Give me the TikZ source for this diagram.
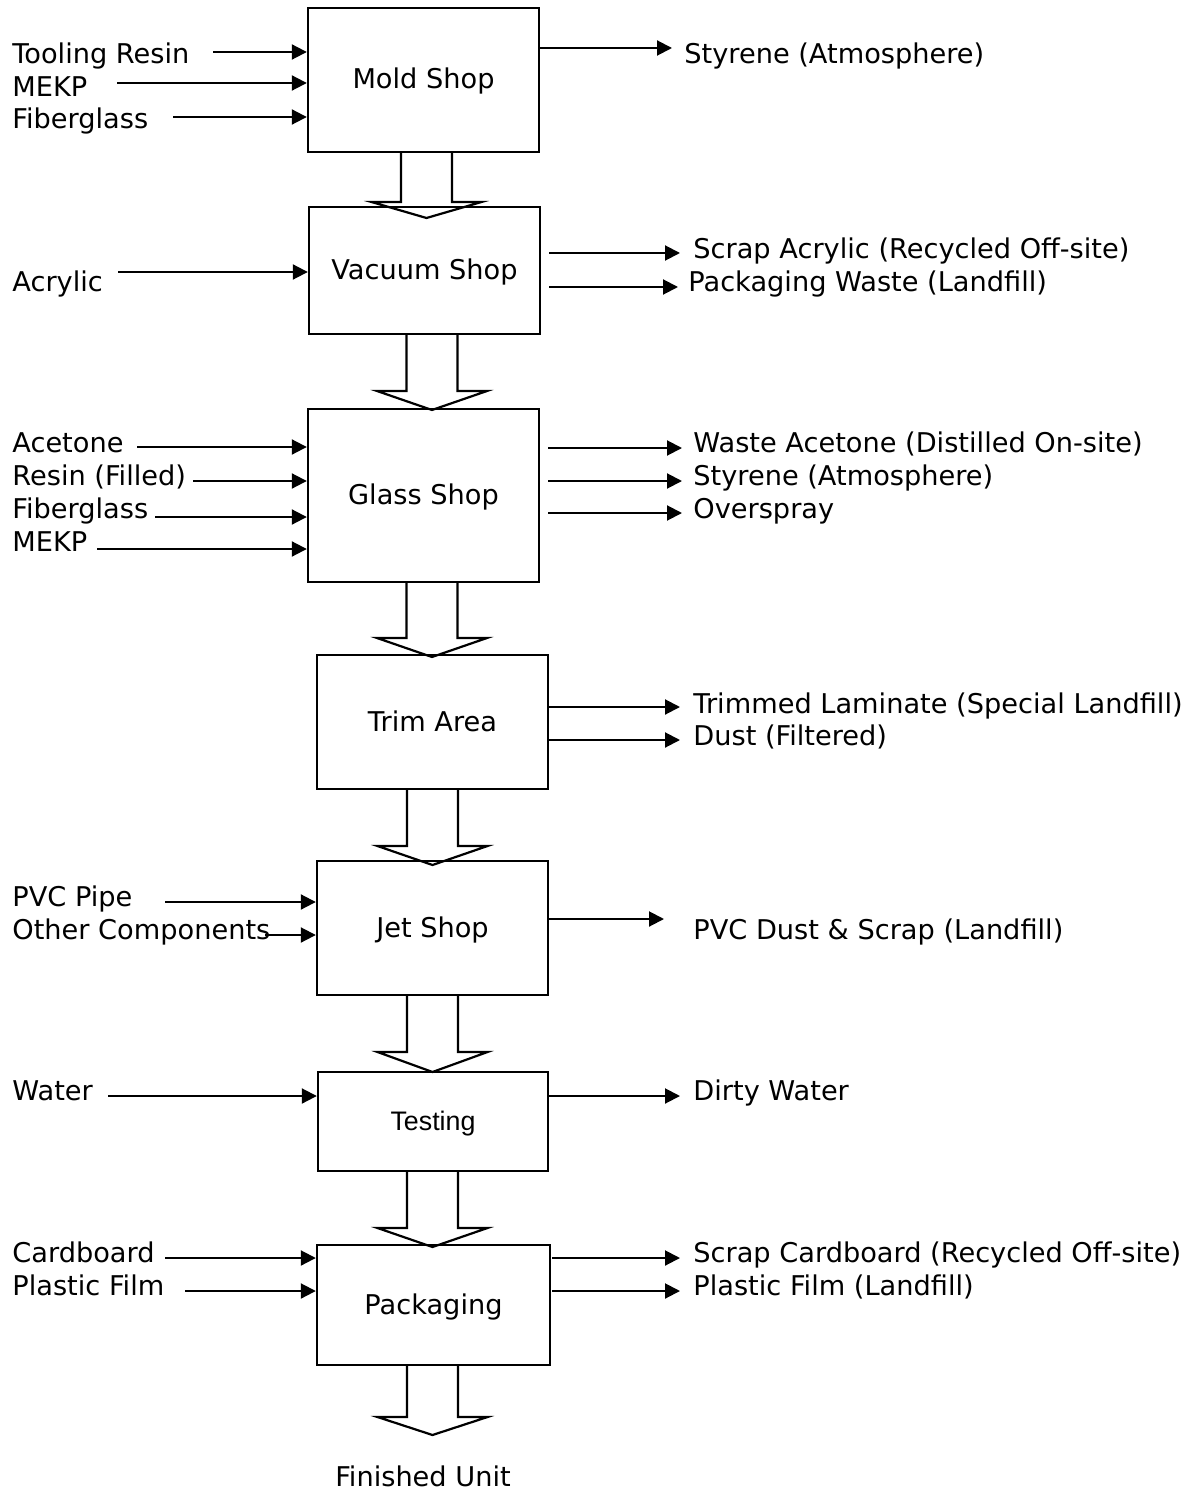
\documentclass[tikz,border=0pt]{standalone}
\usepackage{fontspec}
\setmainfont{DejaVu Sans}
\newfontfamily\arialfont{Liberation Sans}
\usetikzlibrary{arrows.meta}
\newcommand\blkarrow[4]{% #1 center x, #2 source node, #3 head base y, #4 tip y
  \draw[blockarrow] (#1-25.5,0 |- #2.south) -- (#1-25.5,#3) -- (#1-55,#3) -- (#1,#4)
    -- (#1+55,#3) -- (#1+25.5,#3) -- (#1+25.5,0 |- #2.south);}
\begin{document}
\begin{tikzpicture}[x=0.5pt,y=-0.5pt,
  font=\fontsize{13.6}{16}\selectfont,
  shop/.style={draw,line width=1.2pt,inner sep=0,text height=1.0em,text depth=0.1em},
  lbl/.style={inner sep=0,anchor=base west},
  flow/.style={line width=1pt,-{Triangle[length=7.5pt,width=7.5pt]}},
  blockarrow/.style={line width=1.1pt,line join=miter}]
\useasboundingbox (0,0) rectangle (1188,1492);

% process boxes
\node[shop,minimum width=115.5pt,minimum height=72pt] (mold) at (423.5,80) {Mold Shop};
\node[shop,minimum width=115.5pt,minimum height=63.5pt] (vacuum) at (424.5,270.5) {Vacuum Shop};
\node[shop,minimum width=115.5pt,minimum height=86.5pt] (glass) at (423.5,495.5) {Glass Shop};
\node[shop,minimum width=115.5pt,minimum height=67pt] (trim) at (432.5,722) {Trim Area};
\node[shop,minimum width=115.5pt,minimum height=67pt] (jet) at (432.5,928) {Jet Shop};
\node[shop,minimum width=115pt,minimum height=49.5pt,font=\arialfont\fontsize{13.4}{16}\selectfont] (testing) at (433,1121.5) {Testing};
\node[shop,minimum width=116.5pt,minimum height=60pt] (packaging) at (433.5,1305) {Packaging};
\node[inner sep=0,anchor=base] (finished) at (423,1486) {Finished Unit};

% block arrows
\blkarrow{426.5}{mold}{202}{218}
\blkarrow{432}{vacuum}{391}{410}
\blkarrow{432}{glass}{638}{657}
\blkarrow{432.5}{trim}{846}{865}
\blkarrow{432.5}{jet}{1052}{1072}
\blkarrow{432.5}{testing}{1228}{1247}
\blkarrow{432.5}{packaging}{1417}{1435}

% Mold Shop
\node[lbl] (i11) at (12,64) {Tooling Resin};
\node[lbl] (i12) at (12,97) {MEKP};
\node[lbl] (i13) at (12,129) {Fiberglass};
\draw[flow] (213,52) -- (mold.west |- 0,52);
\draw[flow] (117,83) -- (mold.west |- 0,83);
\draw[flow] (173,117) -- (mold.west |- 0,117);
\node[lbl] (o11) at (684,64) {Styrene (Atmosphere)};
\draw[flow] (mold.east |- 0,48) -- (672,48);

% Vacuum Shop
\node[lbl] (i21) at (12,292) {Acrylic};
\draw[flow] (118,272) -- (vacuum.west |- 0,272);
\node[lbl] (o21) at (693,259) {Scrap Acrylic (Recycled Off-site)};
\node[lbl] (o22) at (688,292) {Packaging Waste (Landfill)};
\draw[flow] (549,253) -- (680,253);
\draw[flow] (549,287) -- (678,287);

% Glass Shop
\node[lbl] (i31) at (12,452) {Acetone};
\node[lbl] (i32) at (12,485) {Resin (Filled)};
\node[lbl] (i33) at (12,518) {Fiberglass};
\node[lbl] (i34) at (12,551) {MEKP};
\draw[flow] (137,447) -- (glass.west |- 0,447);
\draw[flow] (193,481) -- (glass.west |- 0,481);
\draw[flow] (155,517) -- (glass.west |- 0,517);
\draw[flow] (97,549) -- (glass.west |- 0,549);
\node[lbl] (o31) at (693,452) {Waste Acetone (Distilled On-site)};
\node[lbl] (o32) at (693,485) {Styrene (Atmosphere)};
\node[lbl] (o33) at (693,518) {Overspray};
\draw[flow] (548,448) -- (682,448);
\draw[flow] (548,481) -- (682,481);
\draw[flow] (548,513) -- (682,513);

% Trim Area
\node[lbl] (o41) at (693,713) {Trimmed Laminate (Special Landfill)};
\node[lbl] (o42) at (693,745) {Dust (Filtered)};
\draw[flow] (trim.east |- 0,707) -- (680,707);
\draw[flow] (trim.east |- 0,740) -- (680,740);

% Jet Shop
\node[lbl] (i51) at (12,906) {PVC Pipe};
\node[lbl] (i52) at (12,939) {Other Components};
\draw[flow] (165,902) -- (jet.west |- 0,902);
\draw[flow] (265,935) -- (jet.west |- 0,935);
\node[lbl] (o51) at (693,939) {PVC Dust \& Scrap (Landfill)};
\draw[flow] (jet.east |- 0,919) -- (664,919);

% Testing
\node[lbl] (i61) at (12,1100) {Water};
\draw[flow] (108,1096) -- (testing.west |- 0,1096);
\node[lbl] (o61) at (693,1100) {Dirty Water};
\draw[flow] (testing.east |- 0,1096) -- (680,1096);

% Packaging
\node[lbl] (i71) at (12,1262) {Cardboard};
\node[lbl] (i72) at (12,1295) {Plastic Film};
\draw[flow] (165,1258) -- (packaging.west |- 0,1258);
\draw[flow] (185,1291) -- (packaging.west |- 0,1291);
\node[lbl] (o71) at (693,1262) {Scrap Cardboard (Recycled Off-site)};
\node[lbl] (o72) at (693,1295) {Plastic Film (Landfill)};
\draw[flow] (552,1258) -- (680,1258);
\draw[flow] (552,1291) -- (680,1291);
\end{tikzpicture}
\end{document}
